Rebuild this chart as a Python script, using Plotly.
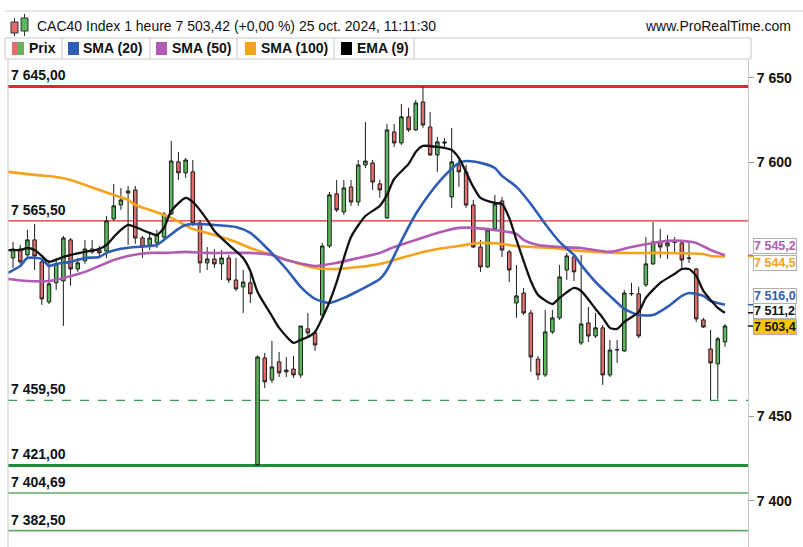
import plotly.graph_objects as go

# ---------------- data ----------------
opens = [7543.6, 7548.9, 7545.4, 7554.3, 7541.3, 7517.6, 7528.9, 7530.0, 7554.3, 7537.1,
         7541.9, 7548.9, 7548.3, 7547.7, 7566.7, 7574.9, 7582.0, 7583.8, 7555.4, 7551.3,
         7552.5, 7556.0, 7569.6, 7600.4, 7593.9, 7594.5, 7564.3, 7540.7, 7543.0, 7540.1,
         7543.6, 7530.6, 7526.5, 7528.9, 7421.5, 7484.5, 7471.5, 7482.2, 7476.3, 7478.0,
         7474.5, 7501.7, 7499.3, 7509.9, 7550.7, 7581.5, 7570.8, 7585.6, 7576.7, 7598.6,
         7599.8, 7587.4, 7567.3, 7618.1, 7611.6, 7627.0, 7619.3, 7635.8, 7621.0, 7604.5,
         7612.2, 7579.7, 7598.6, 7594.5, 7574.9, 7550.1, 7538.3, 7560.8, 7577.3, 7547.2,
         7517.0, 7522.9, 7511.1, 7483.9, 7474.5, 7499.9, 7508.2, 7536.5, 7544.2, 7493.4,
         7505.2, 7497.5, 7502.3, 7474.5, 7489.2, 7488.7, 7522.4, 7522.4, 7527.7, 7540.1,
         7553.1, 7550.7, 7553.1, 7552.5, 7543.6, 7537.1, 7507.0, 7489.8, 7481.0, 7494.0]
highs = [7553.1, 7551.3, 7560.2, 7563.7, 7543.6, 7542.4, 7543.6, 7556.6, 7555.4, 7543.6,
         7554.3, 7554.3, 7550.7, 7568.4, 7587.4, 7585.0, 7586.2, 7586.2, 7556.6, 7559.0,
         7560.2, 7570.8, 7612.8, 7606.3, 7602.7, 7601.5, 7566.1, 7550.1, 7548.9, 7548.3,
         7545.4, 7543.6, 7536.5, 7536.5, 7486.0, 7487.5, 7494.6, 7488.1, 7485.1, 7485.7,
         7503.4, 7511.1, 7501.1, 7552.5, 7582.6, 7589.7, 7589.7, 7589.7, 7601.5, 7624.0,
         7601.5, 7589.7, 7622.8, 7622.8, 7634.6, 7632.3, 7637.0, 7644.5, 7629.9, 7615.1,
         7614.5, 7620.5, 7601.5, 7598.6, 7577.9, 7554.3, 7561.4, 7580.9, 7579.7, 7548.3,
         7539.5, 7525.9, 7512.9, 7485.7, 7512.9, 7512.9, 7539.5, 7546.6, 7545.4, 7545.4,
         7514.7, 7511.1, 7504.0, 7495.2, 7495.2, 7524.7, 7528.9, 7526.5, 7556.0, 7564.9,
         7560.8, 7557.2, 7556.0, 7553.1, 7553.1, 7537.7, 7508.2, 7501.1, 7496.9, 7504.6]
lows = [7537.7, 7540.1, 7543.6, 7536.5, 7515.9, 7516.4, 7524.7, 7503.4, 7527.1, 7535.4,
        7540.1, 7546.0, 7544.8, 7543.6, 7565.5, 7572.0, 7551.3, 7551.9, 7543.6, 7548.3,
        7549.5, 7554.3, 7569.0, 7589.7, 7590.9, 7562.5, 7534.8, 7536.5, 7537.7, 7530.6,
        7528.9, 7524.1, 7511.1, 7517.0, 7421.0, 7466.8, 7469.8, 7473.3, 7473.3, 7472.7,
        7472.7, 7496.3, 7488.7, 7508.2, 7549.5, 7570.8, 7569.0, 7574.4, 7574.4, 7596.8,
        7583.8, 7579.1, 7566.7, 7609.2, 7610.4, 7618.1, 7618.7, 7620.5, 7603.9, 7594.5,
        7608.6, 7573.2, 7585.6, 7573.2, 7549.5, 7535.4, 7537.7, 7560.2, 7544.2, 7529.4,
        7508.2, 7509.9, 7476.3, 7471.5, 7473.3, 7498.7, 7507.0, 7530.6, 7530.0, 7492.2,
        7494.0, 7496.3, 7468.6, 7473.3, 7481.6, 7488.1, 7521.2, 7496.3, 7526.5, 7539.5,
        7543.6, 7543.0, 7547.2, 7537.7, 7540.7, 7505.8, 7502.3, 7459.5, 7460.0, 7491.1]
closes = [7548.9, 7541.3, 7554.3, 7544.8, 7519.4, 7528.3, 7540.1, 7555.4, 7537.1, 7540.7,
          7548.9, 7547.2, 7546.6, 7565.5, 7574.4, 7577.9, 7583.2, 7555.4, 7550.1, 7555.4,
          7557.2, 7569.6, 7600.9, 7593.9, 7601.5, 7564.3, 7540.7, 7543.0, 7540.1, 7543.6,
          7530.6, 7525.3, 7529.4, 7522.4, 7485.1, 7470.4, 7479.2, 7475.7, 7477.4, 7474.5,
          7503.4, 7499.3, 7492.2, 7550.7, 7580.9, 7572.0, 7585.0, 7576.7, 7598.6, 7600.9,
          7588.5, 7583.8, 7619.3, 7611.6, 7627.0, 7619.3, 7635.2, 7622.2, 7604.5, 7612.2,
          7611.6, 7600.4, 7594.5, 7574.9, 7550.1, 7538.3, 7560.2, 7575.5, 7548.3, 7536.5,
          7521.2, 7511.1, 7485.1, 7474.5, 7499.9, 7508.2, 7532.4, 7544.8, 7535.4, 7504.6,
          7497.5, 7502.3, 7474.5, 7489.2, 7489.5, 7522.9, 7522.6, 7497.5, 7540.1, 7553.1,
          7550.1, 7552.5, 7552.9, 7542.4, 7543.4, 7507.6, 7502.8, 7481.6, 7495.8, 7503.4]
bar_index = list(range(len(opens)))

ema9_i = [-0.7, 1, 2, 3, 4, 5, 7, 8, 10, 12, 13, 14, 15, 16, 17, 19, 20, 21, 22, 24, 25, 27, 28, 30,
          32, 33, 34, 36, 37, 39, 40, 41, 42, 43, 44, 45, 47, 49, 51, 52, 53, 55, 56, 57, 59, 61, 62,
          64, 65, 67, 68, 69, 70, 72, 73, 75, 76, 78, 79, 81, 82, 83, 84, 85, 87, 88, 90, 92, 93, 94,
          95, 96, 98, 99]
ema9_v = [7548.3, 7548.3, 7549.5, 7548.3, 7544.8, 7541.3, 7544.2, 7545.4, 7547.2, 7548.9, 7551.3,
          7556.0, 7560.2, 7563.1, 7561.9, 7558.4, 7557.2, 7561.4, 7571.4, 7579.1, 7576.7, 7566.1,
          7559.6, 7551.3, 7543.6, 7535.9, 7523.5, 7509.3, 7502.3, 7493.4, 7495.2, 7496.9, 7499.9,
          7508.2, 7517.6, 7529.4, 7556.0, 7568.4, 7574.4, 7580.9, 7590.3, 7599.2, 7606.3, 7609.8,
          7609.2, 7607.4, 7602.7, 7585.6, 7579.1, 7576.1, 7575.5, 7567.3, 7554.3, 7530.0, 7521.8,
          7516.4, 7520.0, 7525.9, 7524.1, 7513.5, 7508.2, 7502.3, 7501.7, 7505.8, 7511.7, 7520.0,
          7528.9, 7534.2, 7537.1, 7537.1, 7533.0, 7524.1, 7514.1, 7511.2]

sma20_i = [-0.7, 1, 2, 4, 5, 6, 8, 10, 12, 13, 15, 17, 19, 20, 21, 23, 24, 26, 28, 31, 33, 35, 38,
           40, 42, 44, 46, 48, 51, 52, 54, 56, 58, 60, 62, 63, 65, 67, 68, 70, 72, 74, 76, 78, 79,
           81, 83, 85, 87, 89, 91, 93, 94, 96, 97, 99]
sma20_v = [7534.8, 7538.9, 7543.6, 7543.0, 7538.9, 7540.1, 7541.3, 7543.6, 7544.2, 7546.6, 7549.0,
           7550.1, 7550.7, 7551.3, 7554.3, 7560.8, 7563.1, 7563.7, 7563.1, 7561.9, 7558.4, 7550.7,
           7537.1, 7526.5, 7519.4, 7517.0, 7520.0, 7524.1, 7531.2, 7536.5, 7553.7, 7569.6, 7582.0,
           7592.1, 7599.8, 7600.9, 7599.8, 7596.8, 7592.1, 7585.6, 7575.5, 7563.7, 7553.1, 7545.4,
           7539.5, 7529.4, 7521.2, 7513.5, 7509.9, 7509.9, 7514.7, 7521.2, 7522.9, 7521.2, 7518.2,
           7516.0]

sma50_i = [-0.7, 2, 5, 7, 10, 12, 14, 16, 19, 21, 24, 27, 31, 33, 36, 38, 42, 45, 48, 51, 53, 56,
           59, 62, 64, 68, 70, 71, 73, 76, 79, 83, 86, 89, 91, 93, 95, 97, 99]
sma50_v = [7531.2, 7530.0, 7530.0, 7531.8, 7535.4, 7538.9, 7542.4, 7544.8, 7546.6, 7546.6, 7547.2,
           7546.6, 7546.6, 7546.6, 7545.4, 7542.4, 7538.9, 7540.7, 7543.6, 7546.6, 7550.1, 7554.3,
           7558.4, 7561.4, 7561.4, 7559.6, 7557.8, 7554.3, 7551.3, 7550.1, 7549.5, 7547.2, 7550.1,
           7552.5, 7553.7, 7553.7, 7552.5, 7548.3, 7545.2]

sma100_i = [-0.7, 3, 6, 8, 10, 12, 14, 16, 17, 19, 22, 25, 28, 31, 33, 36, 39, 42, 45, 48, 51, 53,
            56, 59, 62, 65, 68, 70, 75, 79, 84, 90, 96, 97, 99]
sma100_v = [7594.5, 7592.7, 7591.5, 7589.7, 7586.8, 7583.8, 7580.9, 7577.9, 7574.9, 7572.0, 7567.3,
            7560.8, 7557.2, 7553.1, 7549.5, 7545.4, 7541.3, 7537.7, 7537.1, 7538.3, 7540.1, 7542.4,
            7546.0, 7548.9, 7550.7, 7552.5, 7551.9, 7550.7, 7549.5, 7547.8, 7546.6, 7546.6, 7546.0,
            7544.8, 7544.5]

levels = [7645.00, 7565.50, 7459.50, 7421.00, 7404.69, 7382.50]
tick_vals = [7400, 7450, 7600, 7650]

legend_names = ["Prix", "SMA (20)", "SMA (50)", "SMA (100)", "EMA (9)"]
title_text = "CAC40 Index 1 heure 7 503,42 (+0,00 %) 25 oct. 2024, 11:11:30"
site_text = "www.ProRealTime.com"

# ---------------- styling / layout helpers ----------------
W, H = 803, 547
ML, MR, MT, MB = 8, 55, 60, 0
PW, PH = W - ML - MR, H - MT - MB
FONT = "Liberation Sans, Arial, sans-serif"

C_BLUE, C_PURPLE, C_ORANGE, C_BLACK = "#2f5db3", "#b05cb3", "#f7a21b", "#111111"
C_UP, C_DOWN = "#5cb85c", "#e46c6c"


def px(X):
    return (X - ML) / PW


def py(Y):
    return (H - MB - Y) / PH


def fr(v, d):
    return f"{v:,.{d}f}".replace(",", " ").replace(".", ",")


fig = go.Figure()
fig.add_trace(go.Candlestick(
    x=bar_index, open=opens, high=highs, low=lows, close=closes,
    increasing=dict(line=dict(color="#1e1e1e", width=1), fillcolor=C_UP),
    decreasing=dict(line=dict(color="#1e1e1e", width=1), fillcolor=C_DOWN),
    whiskerwidth=0, showlegend=False, hoverinfo="skip"))

for xs, ys, col, w in [(sma100_i, sma100_v, C_ORANGE, 2.6),
                       (sma50_i, sma50_v, C_PURPLE, 2.6),
                       (sma20_i, sma20_v, C_BLUE, 2.6),
                       (ema9_i, ema9_v, C_BLACK, 2.3)]:
    fig.add_trace(go.Scatter(x=xs, y=ys, mode="lines",
                             line=dict(color=col, width=w, shape="spline", smoothing=0.6),
                             showlegend=False, hoverinfo="skip"))

shapes = []
annotations = []

# level lines + labels
level_styles = [
    dict(color="#e3262e", width=3, dash="solid"),
    dict(color="#e3262e", width=1.2, dash="solid"),
    dict(color="#3a9a55", width=1.2, dash="dash"),
    dict(color="#1e8a3c", width=3, dash="solid"),
    dict(color="#5aaa6a", width=1.6, dash="solid"),
    dict(color="#5aaa6a", width=1.6, dash="solid"),
]
for lv, st in zip(levels, level_styles):
    shapes.append(dict(type="line", xref="paper", yref="y", x0=0, x1=1, y0=lv, y1=lv,
                       line=st, layer="below"))
    annotations.append(dict(xref="paper", yref="y", x=px(9), y=lv, xanchor="left",
                            yanchor="bottom", yshift=1, showarrow=False,
                            text="<b>" + fr(lv, 2) + "</b>",
                            font=dict(family=FONT, size=14, color="#111")))

# frame: left border
shapes.append(dict(type="line", xref="paper", yref="paper", x0=0, x1=0, y0=0, y1=py(59),
                   line=dict(color="#c8c8c8", width=1)))

# right-side value labels (value, colour, background, pixel shift)
last_labels = [
    (sma50_v[-1], C_PURPLE, "white", 9),
    (sma100_v[-1], C_ORANGE, "white", -7),
    (sma20_v[-1], C_BLUE, "white", 9),
    (ema9_v[-1], C_BLACK, "white", 2),
    (closes[-1], "#111111", "#f6c700", -1),
]
for val, col, bg, ys in last_labels:
    shapes.append(dict(type="line", xref="paper", yref="y", x0=1, x1=px(753), y0=val, y1=val,
                       line=dict(color=col, width=1.5)))
    annotations.append(dict(xref="paper", yref="y", x=px(753), y=val, yshift=ys,
                            xanchor="left", yanchor="middle", showarrow=False,
                            text="<b>" + fr(val, 1) + "</b>", bgcolor=bg,
                            bordercolor="#b0b0b0", borderwidth=1, borderpad=0,
                            font=dict(family=FONT, size=12.5, color=col)))

# header: top rule
shapes.append(dict(type="line", xref="paper", yref="paper", x0=px(5), x1=px(803),
                   y0=py(11), y1=py(11), line=dict(color="#c8c8c8", width=1)))
# header icon (two small candles)
shapes += [
    dict(type="line", xref="paper", yref="paper", x0=px(14.5), x1=px(14.5), y0=py(18), y1=py(36),
         line=dict(color="#333", width=1)),
    dict(type="rect", xref="paper", yref="paper", x0=px(11), x1=px(18), y0=py(22), y1=py(33),
         fillcolor=C_DOWN, line=dict(color="#333", width=1)),
    dict(type="line", xref="paper", yref="paper", x0=px(24.5), x1=px(24.5), y0=py(14), y1=py(36),
         line=dict(color="#333", width=1)),
    dict(type="rect", xref="paper", yref="paper", x0=px(21), x1=px(28), y0=py(18), y1=py(31),
         fillcolor=C_UP, line=dict(color="#333", width=1)),
]
annotations.append(dict(xref="paper", yref="paper", x=px(35), y=py(26), xanchor="left",
                        yanchor="middle", showarrow=False, text=title_text,
                        font=dict(family=FONT, size=14, color="#111")))
annotations.append(dict(xref="paper", yref="paper", x=px(643), y=py(26), xanchor="left",
                        yanchor="middle", showarrow=False, text=site_text,
                        font=dict(family=FONT, size=14, color="#111")))

# legend row
shapes.append(dict(type="rect", xref="paper", yref="paper", x0=px(5), x1=px(751),
                   y0=py(59), y1=py(38), line=dict(color="#c8c8c8", width=1)))
for sx in [62, 150, 237, 334, 414]:
    shapes.append(dict(type="line", xref="paper", yref="paper", x0=px(sx), x1=px(sx),
                       y0=py(59), y1=py(38), line=dict(color="#c8c8c8", width=1)))
sq_x = [12, 68, 156, 245, 341]
txt_x = [27, 81, 170, 259, 355]
sq_cols = [None, C_BLUE, C_PURPLE, C_ORANGE, "#000000"]
for name, sx, tx, col in zip(legend_names, sq_x, txt_x, sq_cols):
    if col is None:
        shapes.append(dict(type="rect", xref="paper", yref="paper", x0=px(sx), x1=px(sx + 6),
                           y0=py(55), y1=py(42), fillcolor=C_DOWN, line=dict(width=0)))
        shapes.append(dict(type="rect", xref="paper", yref="paper", x0=px(sx + 6), x1=px(sx + 12),
                           y0=py(55), y1=py(42), fillcolor=C_UP, line=dict(width=0)))
    else:
        shapes.append(dict(type="rect", xref="paper", yref="paper", x0=px(sx), x1=px(sx + 11),
                           y0=py(55), y1=py(42), fillcolor=col, line=dict(width=0)))
    annotations.append(dict(xref="paper", yref="paper", x=px(tx), y=py(48.5), xanchor="left",
                            yanchor="middle", showarrow=False, text="<b>" + name + "</b>",
                            font=dict(family=FONT, size=14, color="#111")))

fig.update_layout(
    width=W, height=H,
    margin=dict(l=ML, r=MR, t=MT, b=MB, pad=0),
    paper_bgcolor="white", plot_bgcolor="white",
    showlegend=False,
    xaxis=dict(range=[-0.7, 102.2], visible=False, rangeslider=dict(visible=False),
               fixedrange=True),
    yaxis=dict(side="right", range=[7372.8, 7660.6], tickvals=tick_vals,
               ticktext=["<b>" + fr(v, 0) + "</b>" for v in tick_vals],
               showgrid=False, zeroline=False, showline=True, linecolor="#c8c8c8",
               linewidth=1, ticks="outside", ticklen=5, tickcolor="#999",
               tickfont=dict(family=FONT, size=14, color="#111"), fixedrange=True),
    shapes=shapes, annotations=annotations,
)

fig.write_html("out.html")
